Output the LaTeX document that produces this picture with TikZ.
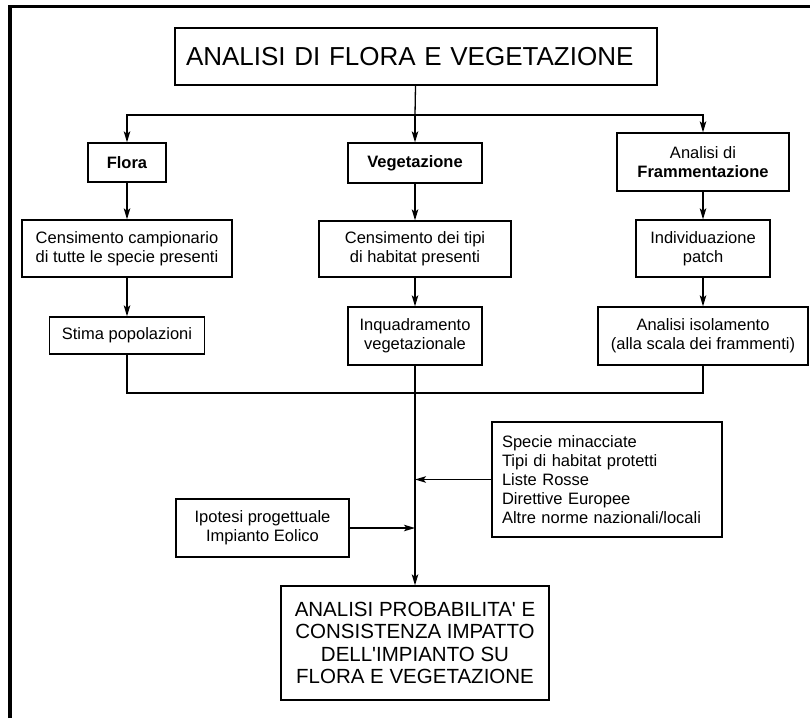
\documentclass[tikz,border=0pt]{standalone}
\usepackage{fontspec}
\setmainfont{Liberation Sans}
\usetikzlibrary{arrows.meta}

\begin{document}
\begin{tikzpicture}[x=1pt,y=-1pt,color=black,every path/.append style={line width=1.3pt},
  box/.style={draw,inner sep=0pt,align=center,font=\fontsize{16.5}{19}\selectfont},
  tip/.style={-{Stealth[length=11pt,width=6.5pt,inset=2.5pt]}}]
\useasboundingbox (0,0) rectangle (810,718);
\draw[line width=3.5pt] (10,718) -- (10,6.5) -- (810,6.5);
\node(TIT) [box,minimum width=482pt,minimum height=57pt,text width=460pt,align=left,
	font=\fontsize{26}{30}\selectfont] at (416,56.5) {ANALISI DI FLORA E VEGETAZIONE};
\node(FLO) [box,minimum width=78pt,minimum height=39pt] at (127,162.5) {\textbf{Flora}};
\node(VEG) [box,minimum width=134pt,minimum height=40pt] at (415,163) {\textbf{Vegetazione}};
\node(FRA) [box,minimum width=172pt,minimum height=58pt] at (703,162) {Analisi di\\\textbf{Frammentazione}};
\node(CFL) [box,minimum width=210pt,minimum height=57pt] at (127,248.5) {Censimento campionario\\di tutte le specie presenti};
\node(CVE) [box,minimum width=192pt,minimum height=56pt] at (415,249) {Censimento dei tipi\\di habitat presenti};
\node(IND) [box,minimum width=134pt,minimum height=57pt] at (703,248.5) {Individuazione\\patch};
\node(STI) [box,minimum width=155pt,minimum height=37pt] at (127,335.5) {Stima popolazioni};
\node(INQ) [box,minimum width=134pt,minimum height=58pt] at (415,336) {Inquadramento\\vegetazionale};
\node(ISO) [box,minimum width=210pt,minimum height=58pt] at (703,336) {Analisi isolamento\\(alla scala dei frammenti)};
\node(LIS) [box,minimum width=230pt,minimum height=115pt,text width=210pt,align=left,
	font=\fontsize{16.5}{18.8}\selectfont] at (607,479.5)
	{Specie minacciate\\Tipi di habitat protetti\\Liste Rosse\\Direttive Europee\\Altre norme nazionali/locali};
\node(IPO) [box,minimum width=173pt,minimum height=58pt] at (262.5,528) {Ipotesi progettuale\\Impianto Eolico};
\node(FIN) [box,minimum width=268pt,minimum height=114pt,font=\fontsize{20.5}{22.6}\selectfont] at (415,643)
	{ANALISI PROBABILITA\textquotesingle{} E\\CONSISTENZA IMPATTO\\DELL\textquotesingle IMPIANTO SU\\FLORA E VEGETAZIONE};
\coordinate(SPL) at (415,115);
\coordinate(JOI) at (415,393);
\draw (TIT) -- (SPL);
\draw[tip] (SPL) -| (FLO);
\draw[tip] (SPL) -- (VEG);
\draw[tip] (SPL) -| (FRA);
\draw[tip] (FLO) -- (CFL);
\draw[tip] (CFL) -- (STI);
\draw[tip] (VEG) -- (CVE);
\draw[tip] (CVE) -- (INQ);
\draw[tip] (FRA) -- (IND);
\draw[tip] (IND) -- (ISO);
\draw (STI) |- (JOI);
\draw (ISO) |- (JOI);
\draw[tip] (INQ) -- (FIN);
\draw[tip] (LIS.west) -- (LIS.west -| FIN);
\draw[tip] (IPO.east) -- (IPO.east -| FIN);
\end{tikzpicture}
\end{document}
